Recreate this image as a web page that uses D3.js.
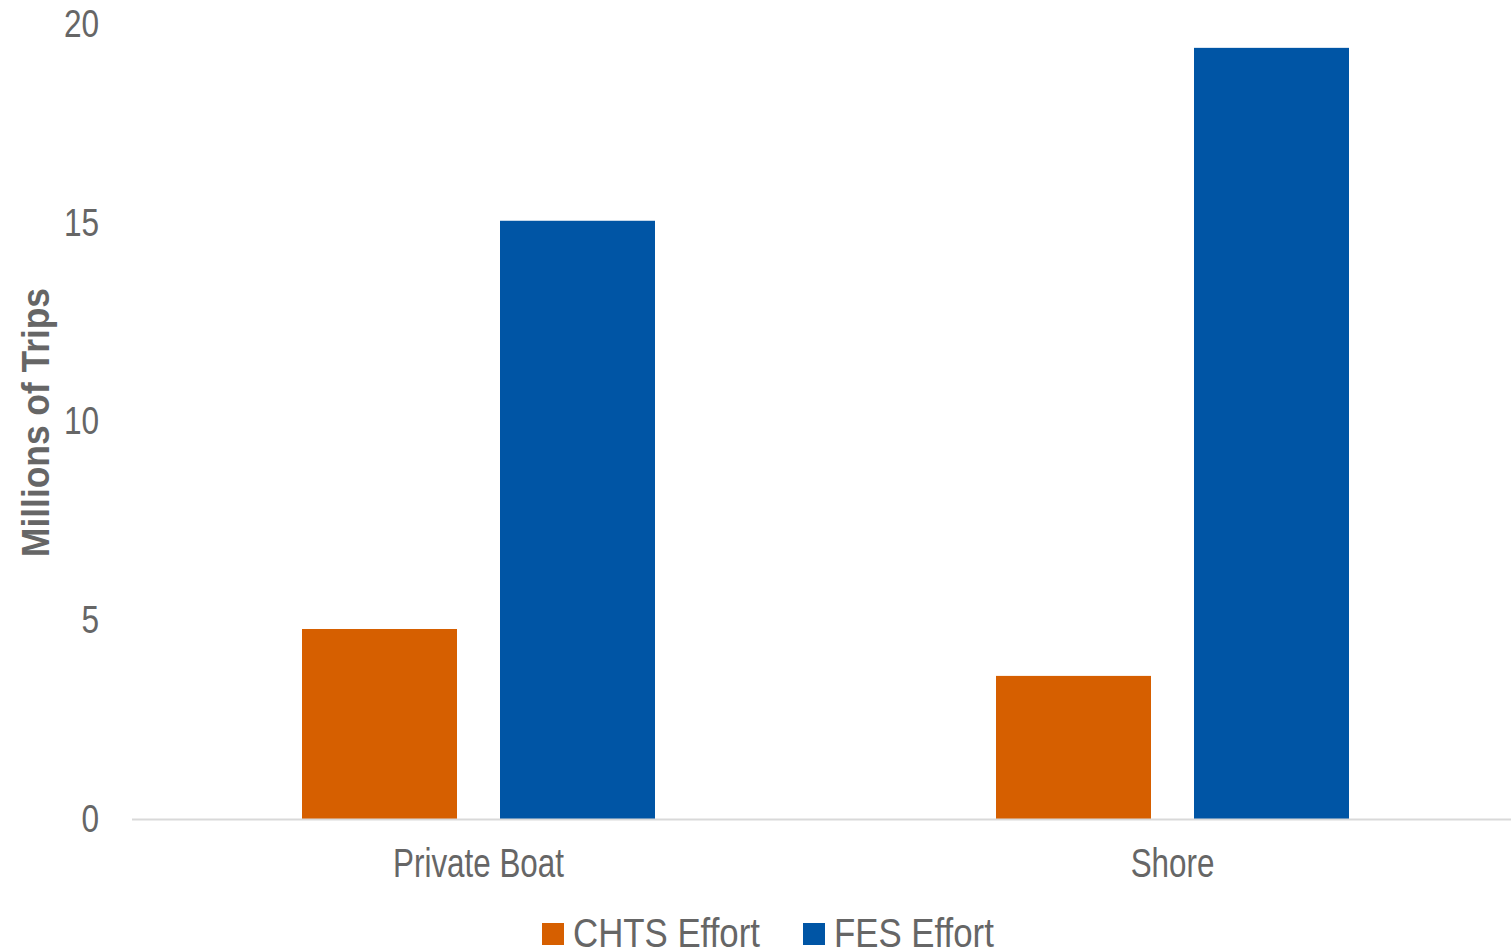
<!DOCTYPE html>
<html>
<head>
<meta charset="utf-8">
<script src="https://cdn.jsdelivr.net/npm/d3@7"></script>
<style>
  html, body { margin: 0; padding: 0; background: #fff; }
  svg { display: block; }
  text { font-family: "Liberation Sans Narrow", "Arial Narrow", "Liberation Sans", Arial, sans-serif; }
</style>
</head>
<body>
<svg id="chart" width="1511" height="951"></svg>
<script>
const categories = ["Private Boat", "Shore"];
const seriesNames = ["CHTS Effort", "FES Effort"];
const chtsValues = [4.78, 3.6];
const fesValues = [15.05, 19.4];
const yTicks = [0, 5, 10, 15, 20];
const colors = ["#D65F00", "#0055A5"];

const svg = d3.select("#chart");
const plot = { left: 131.5, right: 1519.5, top: 24, bottom: 819 };
const narrow = 0.81;

const x = d3.scaleBand().domain(categories).range([plot.left, plot.right]).paddingInner(0).paddingOuter(0);
const xSub = d3.scaleBand().domain(seriesNames).range([170.5, 523.5]).paddingInner(0.2172).paddingOuter(0);
const y = d3.scaleLinear().domain([0, 20]).range([plot.bottom, plot.top]);

const data = categories.map((c, i) => ({
  category: c,
  values: [
    { series: seriesNames[0], value: chtsValues[i] },
    { series: seriesNames[1], value: fesValues[i] }
  ]
}));

// Bars
const groups = svg.append("g").selectAll("g").data(data).join("g")
  .attr("transform", d => `translate(${x(d.category)},0)`);
groups.selectAll("rect").data(d => d.values).join("rect")
  .attr("x", d => xSub(d.series))
  .attr("width", xSub.bandwidth())
  .attr("y", d => y(d.value))
  .attr("height", d => y(0) - y(d.value))
  .attr("fill", (d, i) => colors[i]);

// Y axis (labels only)
const yAxis = d3.axisLeft(y).tickValues(yTicks).tickSize(0).tickPadding(0).tickFormat(d3.format("d"));
const yg = svg.append("g").attr("transform", `translate(99,0)`).call(yAxis);
yg.select(".domain").remove();
yg.selectAll("text").attr("font-size", 39).attr("fill", "#666666")
  .attr("x", 0).attr("transform", `scale(${narrow},1)`)
  .style("font-family", '"Liberation Sans Narrow", "Arial Narrow", "Liberation Sans", sans-serif');

// X axis
const xAxis = d3.axisBottom(x).tickSize(0).tickPadding(0);
const xg = svg.append("g").attr("transform", `translate(0,${plot.bottom})`).call(xAxis);
xg.select(".domain").attr("stroke", "#d9d9d9").attr("stroke-width", 2);
xg.selectAll("text").attr("font-size", 40).attr("fill", "#666666").attr("y", 0).attr("dy", "1.45em")
  .attr("transform", `scale(0.785,1)`)
  .style("font-family", '"Liberation Sans Narrow", "Arial Narrow", "Liberation Sans", sans-serif');

// Y axis title
svg.append("text")
  .attr("transform", `translate(49,${(290 + 555) / 2}) rotate(-90) scale(0.93,1)`)
  .attr("text-anchor", "middle")
  .attr("font-size", 38)
  .attr("font-weight", "bold")
  .attr("fill", "#666666")
  .text("Millions of Trips");

// Legend
const legendItems = [
  { name: seriesNames[0], color: colors[0], x: 542 },
  { name: seriesNames[1], color: colors[1], x: 803 }
];
const lg = svg.append("g").selectAll("g").data(legendItems).join("g")
  .attr("transform", d => `translate(${d.x},923)`);
lg.append("rect").attr("width", 22).attr("height", 22).attr("fill", d => d.color);
lg.append("text").attr("transform", "translate(31,24) scale(0.87,1)").attr("font-size", 40).attr("fill", "#666666")
  .text(d => d.name);
</script>
</body>
</html>
